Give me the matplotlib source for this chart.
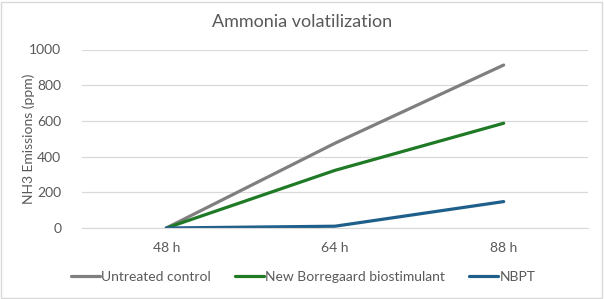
import matplotlib.pyplot as plt
from matplotlib.patches import Rectangle

plt.rcParams['font.family'] = ['Lato', 'DejaVu Sans']

# Data
times = ['48 h', '64 h', '88 h']
untreated = [0, 475, 913]
borregaard = [0, 323, 587]
nbpt = [0, 10, 148]

fig = plt.figure(figsize=(6.04, 2.99), dpi=100)
ax = fig.add_axes([82 / 604, 1 - 228 / 299, 506 / 604, 178.5 / 299])

x = range(len(times))
ax.plot(x, untreated, color='#7f7f7f', lw=2.3, label='Untreated control', solid_capstyle='round')
ax.plot(x, borregaard, color='#1f7a26', lw=2.3, label='New Borregaard biostimulant', solid_capstyle='round')
ax.plot(x, nbpt, color='#1f5f8b', lw=2.3, label='NBPT', solid_capstyle='round')

ax.set_xlim(-0.5, 2.5)
ax.set_ylim(0, 1000)
ax.set_yticks(range(0, 1001, 200))
ax.set_xticks(list(x))
ax.set_xticklabels(times)
ax.grid(axis='y', color='#d9d9d9', lw=0.9)
ax.set_axisbelow(True)
for s in ['top', 'right', 'left']:
    ax.spines[s].set_visible(False)
ax.spines['bottom'].set_color('#d9d9d9')
ax.tick_params(length=0, colors='#595959', labelsize=10)
ax.tick_params(axis='x', pad=10)
ax.tick_params(axis='y', pad=15)

ax.set_ylabel('NH3 Emissions (ppm)', color='#595959', fontsize=10)
ax.yaxis.set_label_coords((35 - 82) / 506, 0.5)
fig.text(0.5, 1 - 22 / 299, 'Ammonia volatilization', ha='center', va='center',
         color='#595959', fontsize=13)

leg = ax.legend(loc='center', ncol=3, frameon=False, fontsize=10, labelcolor='#595959',
                handlelength=2.1, handletextpad=0.1, columnspacing=1.7)
leg.set_bbox_to_anchor((303 / 604, 1 - 277 / 299), transform=fig.transFigure)

fig.patches.append(Rectangle((0.5 / 604, 1.5 / 299), 601 / 604, 296 / 299, transform=fig.transFigure,
                             fill=False, edgecolor='#d9d9d9', lw=1))

fig.savefig('out.png', dpi=100)
